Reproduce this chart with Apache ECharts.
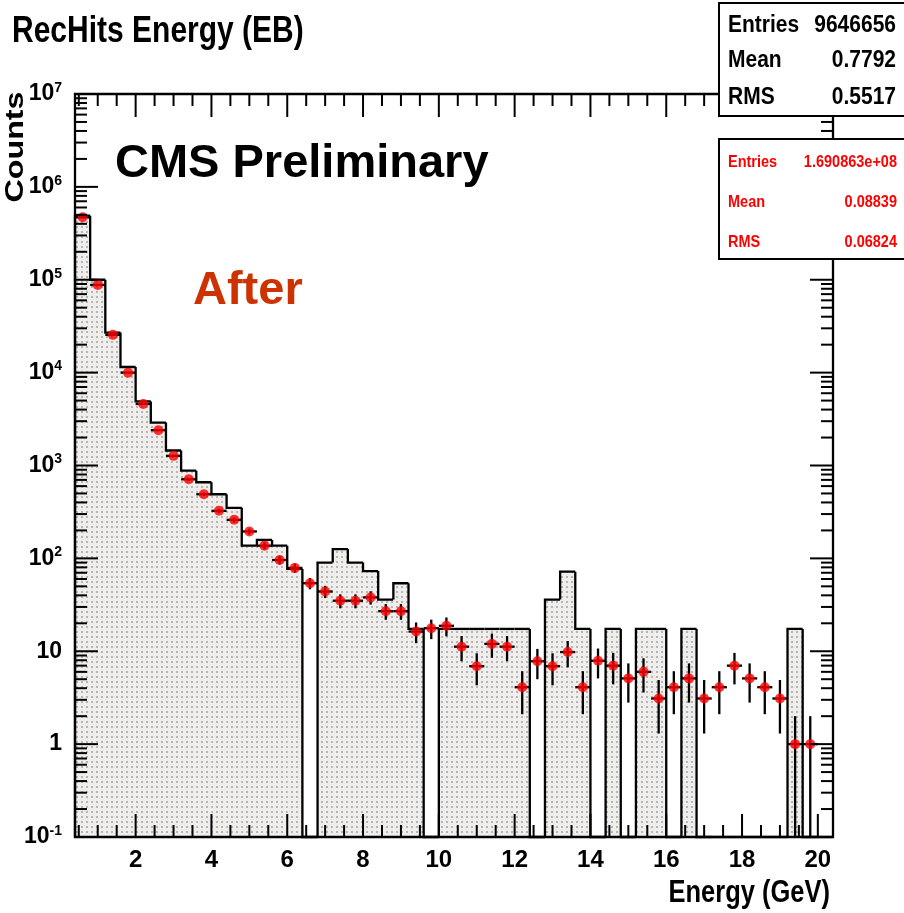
<!DOCTYPE html>
<html>
<head>
<meta charset="utf-8">
<title>RecHits Energy (EB)</title>
<script src="https://cdn.jsdelivr.net/npm/echarts@6/dist/echarts.min.js"></script>
<style>
  html, body { margin: 0; padding: 0; background: #ffffff; }
  #chart { width: 904px; height: 913px; }
</style>
</head>
<body>
<div id="chart"></div>
<script>
// Histogram binning: 50 bins of 0.4 GeV starting at 0.4 GeV
const BIN_START = 0.4;
const BIN_WIDTH = 0.4;

// Reference histogram (black outline, dotted fill); 0 = empty bin
const histCounts = [
  490000, 100000, 27000, 11500, 4900, 2900, 1450, 880, 660, 490,
  350, 137, 158, 137, 77, 0, 90, 126, 90, 73,
  36, 54, 17.4, 0, 17.4, 17.4, 17.4, 17.4, 17.4, 17.4,
  0, 36, 72, 17.4, 0, 17.4, 0, 17.4, 17.4, 0,
  17.4, 0, 0, 0, 0, 0, 0, 17.4, 0, 0
];

// Data points (red markers) and their vertical errors
const dataCounts = [
  470000, 88000, 25500, 10000, 4600, 2400, 1270, 710, 490, 325,
  260, 195, 137, 96, 79, 54, 44, 35, 35, 38,
  27, 27, 16.3, 17.7, 18.8, 11.2, 6.9, 12, 11.2, 4.1,
  7.8, 6.9, 9.8, 4.1, 7.9, 7.0, 5.1, 6.0, 3.1, 4.1,
  5.1, 3.1, 4.1, 7.0, 5.1, 4.1, 3.1, 1.0, 1.0, null
];
const dataErrors = [
  700, 300, 160, 100, 68, 49, 36, 27, 22, 18,
  16, 14, 12, 10, 9, 7.5, 6.6, 6, 6, 6.2,
  5.2, 5.2, 4.1, 4.2, 4.3, 3.4, 2.6, 3.5, 3.4, 2.0,
  2.8, 2.6, 3.1, 2.0, 2.8, 2.6, 2.3, 2.4, 1.8, 2.0,
  2.3, 1.8, 2.0, 2.6, 2.3, 2.0, 1.8, 1.0, 1.0, null
];

// Axis ranges and labelled ticks
const X_MIN = 0.4, X_MAX = 20.4;
const Y_MIN = 0.1, Y_MAX = 1e7;
const xTickLabels = [2, 4, 6, 8, 10, 12, 14, 16, 18, 20];
const yTickValues = [0.1, 1, 10, 100, 1000, 1e4, 1e5, 1e6, 1e7];

// Statistics boxes
const statsMain = [['Entries', '9646656'], ['Mean', '0.7792'], ['RMS', '0.5517']];
const statsData = [['Entries', '1.690863e+08'], ['Mean', '0.08839'], ['RMS', '0.06824']];

const FONT = '"Liberation Sans", Arial, Helvetica, sans-serif';
const TOP_Z = 100;
const LINE_W = 2.3;

function dotPattern() {
  const cv = document.createElement('canvas');
  cv.width = 5; cv.height = 5;
  const g = cv.getContext('2d');
  g.fillStyle = '#f0eeec';
  g.fillRect(0, 0, 5, 5);
  g.fillStyle = '#b8b4b0';
  g.fillRect(1, 1, 2, 2);
  return cv;
}
const fillPattern = { image: dotPattern(), repeat: 'repeat' };

// Bin items: [lowEdge, highEdge, count, previousCount]
const histData = histCounts.map((v, i) => [
  BIN_START + i * BIN_WIDTH,
  BIN_START + (i + 1) * BIN_WIDTH,
  v,
  i > 0 ? histCounts[i - 1] : 0
]);

// Point items: [center, count, error]
const pointData = [];
dataCounts.forEach((v, i) => {
  if (v == null) return;
  pointData.push([BIN_START + (i + 0.5) * BIN_WIDTH, v, dataErrors[i]]);
});

function renderHistBin(params, api) {
  const lo = api.value(0), hi = api.value(1), v = api.value(2), pv = api.value(3);
  const base = api.coord([lo, Y_MIN])[1];
  const x0 = api.coord([lo, Y_MIN])[0];
  const x1 = api.coord([hi, Y_MIN])[0];
  const yTop = v > 0 ? api.coord([lo, v])[1] : base;
  const yPrev = pv > 0 ? api.coord([lo, pv])[1] : base;
  const children = [];
  if (v > 0) {
    children.push({
      type: 'rect',
      shape: { x: x0, y: yTop, width: x1 - x0, height: base - yTop },
      style: { fill: fillPattern }
    });
  }
  const pts = [[x0, yPrev], [x0, yTop], [x1, yTop]];
  if (params.dataIndex === histCounts.length - 1) pts.push([x1, base]);
  children.push({
    type: 'polyline',
    shape: { points: pts },
    style: { stroke: '#000', lineWidth: LINE_W, fill: null, lineJoin: 'miter' }
  });
  return { type: 'group', children };
}

function renderErrorBar(params, api) {
  const x = api.value(0), v = api.value(1), e = api.value(2);
  const lowV = v - e;
  const pLow = lowV > Y_MIN ? api.coord([x, lowV]) : api.coord([x, Y_MIN]);
  const pHigh = api.coord([x, v + e]);
  const pL = api.coord([x - BIN_WIDTH / 2, v]);
  const pR = api.coord([x + BIN_WIDTH / 2, v]);
  const st = { stroke: '#000', lineWidth: LINE_W };
  return {
    type: 'group',
    children: [
      { type: 'line', shape: { x1: pLow[0], y1: pLow[1], x2: pHigh[0], y2: pHigh[1] }, style: st },
      { type: 'line', shape: { x1: pL[0], y1: pL[1], x2: pR[0], y2: pR[1] }, style: st }
    ]
  };
}

// Frame with inward ticks on all four sides (linear x, log y)
function renderFrame(params, api) {
  const bl = api.coord([X_MIN, Y_MIN]);
  const tr = api.coord([X_MAX, Y_MAX]);
  const xl = bl[0], yb = bl[1], xr = tr[0], yt = tr[1];
  const st = { stroke: '#000', lineWidth: 2 };
  const children = [{
    type: 'rect',
    shape: { x: xl, y: yt, width: xr - xl, height: yb - yt },
    style: { fill: null, stroke: '#000', lineWidth: LINE_W }
  }];
  const seg = (x1, y1, x2, y2) => children.push({ type: 'line', shape: { x1, y1, x2, y2 }, style: st });
  for (let k = 1; k * 0.5 <= X_MAX; k++) {
    const xv = k * 0.5;
    if (xv <= X_MIN) continue;
    const len = k % 4 === 0 ? 23 : 12;
    const px = api.coord([xv, Y_MIN])[0];
    seg(px, yb, px, yb - len);
    seg(px, yt, px, yt + len);
  }
  for (let e = -1; e <= 7; e++) {
    for (let m = 1; m <= 9; m++) {
      const v = m * Math.pow(10, e);
      if (v > Y_MAX * 1.0001) break;
      const len = m === 1 ? 23 : 12;
      const py = api.coord([X_MIN, v])[1];
      seg(xl, py, xl + len, py);
      seg(xr, py, xr - len, py);
    }
  }
  return { type: 'group', children };
}

function yLabel(v) {
  const e = Math.round(Math.log10(v));
  if (e === 0) return '1';
  if (e === 1) return '10';
  return '{b|10}{s|' + e + '}';
}

// One statistics box: white panel with label/value rows
function statsBox(top, height, rows, color, size, rowYs, valueRight) {
  const els = [{
    type: 'rect', z: TOP_Z,
    shape: { x: 719, y: top, width: 200, height },
    style: { fill: '#ffffff', stroke: '#000', lineWidth: 2 }
  }];
  rows.forEach((r, i) => {
    els.push({
      type: 'text', x: 728, y: rowYs[i], scaleY: 1.15, z: TOP_Z + 1,
      style: { text: r[0], font: 'bold ' + size + 'px ' + FONT, fill: color, textAlign: 'left', textVerticalAlign: 'middle' }
    });
    els.push({
      type: 'text', x: valueRight, y: rowYs[i], scaleY: 1.15, z: TOP_Z + 1,
      style: { text: r[1], font: 'bold ' + size + 'px ' + FONT, fill: color, textAlign: 'right', textVerticalAlign: 'middle' }
    });
  });
  return els;
}

const chart = echarts.init(document.getElementById('chart'), null, { renderer: 'canvas' });

const option = {
  backgroundColor: '#ffffff',
  animation: false,
  grid: { left: 75, right: 71, top: 94, bottom: 76, show: false },
  xAxis: {
    type: 'value',
    min: X_MIN,
    max: X_MAX,
    axisLine: { show: false },
    axisTick: { show: false },
    splitLine: { show: false },
    axisLabel: {
      customValues: xTickLabels,
      margin: 11,
      color: '#000',
      fontFamily: FONT,
      fontWeight: 'bold',
      fontSize: 24
    }
  },
  yAxis: {
    type: 'log',
    logBase: 10,
    min: Y_MIN,
    max: Y_MAX,
    axisLine: { show: false },
    axisTick: { show: false },
    splitLine: { show: false },
    axisLabel: {
      customValues: yTickValues,
      margin: 13,
      color: '#000',
      fontFamily: FONT,
      fontWeight: 'bold',
      fontSize: 23,
      formatter: yLabel,
      rich: {
        b: { fontFamily: FONT, fontWeight: 'bold', fontSize: 23, color: '#000' },
        s: { fontFamily: FONT, fontWeight: 'bold', fontSize: 14, color: '#000', verticalAlign: 'top', padding: [0, 0, 12, 0] }
      }
    }
  },
  series: [
    {
      name: 'Reference',
      type: 'custom',
      renderItem: renderHistBin,
      data: histData,
      encode: { x: [0, 1], y: 2 },
      z: 2
    },
    {
      name: 'Error bars',
      type: 'custom',
      renderItem: renderErrorBar,
      data: pointData,
      encode: { x: 0, y: 1 },
      z: 3
    },
    {
      name: 'Data',
      type: 'scatter',
      data: pointData.map(p => [p[0], p[1]]),
      symbol: 'circle',
      symbolSize: 10,
      itemStyle: { color: '#ff0000' },
      z: 4
    },
    {
      name: 'Frame',
      type: 'custom',
      renderItem: renderFrame,
      data: [[1, 1]],
      clip: false,
      silent: true,
      z: 5
    }
  ],
  graphic: [
    {
      type: 'text', x: 12, y: 32, scaleY: 1.22, z: TOP_Z,
      style: { text: 'RecHits Energy (EB)', font: 'bold 30px ' + FONT, fill: '#000', textAlign: 'left', textVerticalAlign: 'middle' }
    },
    {
      type: 'text', x: 16, y: 147, rotation: Math.PI / 2, scaleX: 1.24, z: TOP_Z,
      style: { text: 'Counts', font: 'bold 26px ' + FONT, fill: '#000', textAlign: 'center', textVerticalAlign: 'middle' }
    },
    {
      type: 'text', x: 115, y: 164, z: TOP_Z,
      style: { text: 'CMS Preliminary', font: 'bold 47px ' + FONT, fill: '#000', textAlign: 'left', textVerticalAlign: 'middle' }
    },
    {
      type: 'text', x: 193, y: 291, z: TOP_Z,
      style: { text: 'After', font: 'bold 47px ' + FONT, fill: '#cc3300', textAlign: 'left', textVerticalAlign: 'middle' }
    },
    {
      type: 'text', x: 830, y: 893, scaleY: 1.22, z: TOP_Z,
      style: { text: 'Energy (GeV)', font: 'bold 25.5px ' + FONT, fill: '#000', textAlign: 'right', textVerticalAlign: 'middle' }
    },
    {
      type: 'group', z: TOP_Z,
      children: statsBox(3, 113, statsMain, '#000', 21, [25, 60, 97], 896)
    },
    {
      type: 'group', z: TOP_Z,
      children: statsBox(139, 120, statsData, '#ff0000', 14.5, [162, 202, 242], 897)
    }
  ]
};

chart.setOption(option);
</script>
</body>
</html>
